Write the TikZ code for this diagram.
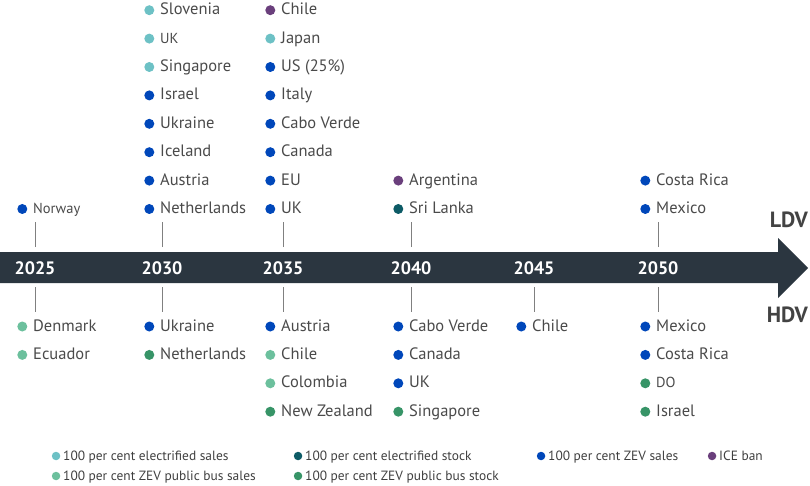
\documentclass[tikz,border=0pt]{standalone}
\usepackage{fontspec}
\setmainfont{PT Sans}
\usetikzlibrary{positioning}

\definecolor{elsales}{HTML}{6DC1C5}
\definecolor{elstock}{HTML}{0D5B66}
\definecolor{zevsales}{HTML}{0047BA}
\definecolor{iceban}{HTML}{6A3F7C}
\definecolor{bussales}{HTML}{6CC09D}
\definecolor{busstock}{HTML}{379467}
\definecolor{bar}{HTML}{2B3640}
\definecolor{txt}{HTML}{4A4A4A}

\begin{document}
\begin{tikzpicture}[x=1pt, y=-1pt,
  node distance=19pt,
  entry/.style={anchor=west, inner sep=0pt, text height=9pt, text depth=0pt,
                font=\fontsize{16.5}{16.5}\selectfont, text=txt,
                label={[circle, fill=#1, minimum size=10pt, inner sep=0pt,
                        xshift=-5.5pt]left:{}}},
  small/.style={font=\fontsize{14.5}{14.5}\selectfont},
  upof/.style={above=of #1.north west, anchor=south west},
  downof/.style={below=of #1.south west, anchor=north west},
  key/.style={anchor=west, inner sep=0pt, text height=8pt, text depth=0pt,
              font=\fontsize{13.4}{13.4}\selectfont, text=txt!85!black,
              label={[circle, fill=#1, minimum size=8.5pt, inner sep=0pt,
                      xshift=-2.5pt]left:{}}},
  year/.style={font=\fontsize{18}{18}\selectfont\bfseries, text=white, inner sep=0pt},
  side/.style={font=\fontsize{22}{22}\selectfont\bfseries, text=txt!90!black,
               anchor=east, inner sep=0pt},
  tick/.style={draw=gray, line width=0.7pt}
]
\useasboundingbox (0,0) rectangle (810,486);

% timeline arrow
\fill[bar] (0,252) -- (778,252) -- (778,238) -- (808,268)
           -- (778,298) -- (778,283) -- (0,283) -- cycle;

\node[year] (y2025) at (35,268)  {2025};
\node[year] (y2030) at (162,268) {2030};
\node[year] (y2035) at (283,268) {2035};
\node[year] (y2040) at (411,268) {2040};
\node[year] (y2045) at (534,268) {2045};
\node[year] (y2050) at (658,268) {2050};

\node[side] (ldv) at (808,220) {LDV};
\node[side] (hdv) at (808,315) {HDV};

% ticks
\draw[tick] (y2025.center) ++(0,-21) -- ++(0,-25);
\draw[tick] (y2030.center) ++(0,-21) -- ++(0,-25);
\draw[tick] (y2035.center) ++(0,-21) -- ++(0,-25);
\draw[tick] (y2040.center) ++(0,-21) -- ++(0,-25);
\draw[tick] (y2050.center) ++(0,-21) -- ++(0,-25);
\draw[tick] (y2025.center) ++(0,19) -- ++(0,25);
\draw[tick] (y2030.center) ++(0,19) -- ++(0,25);
\draw[tick] (y2035.center) ++(0,19) -- ++(0,25);
\draw[tick] (y2040.center) ++(0,19) -- ++(0,25);
\draw[tick] (y2045.center) ++(0,19) -- ++(0,25);
\draw[tick] (y2050.center) ++(0,19) -- ++(0,25);

% LDV targets
\node[entry=zevsales, small] (no25) at (33,209) {Norway};

\node[entry=zevsales] (ne30) at (160,209) {Netherlands};
\node[entry=zevsales, upof=ne30] (au30) {Austria};
\node[entry=zevsales, upof=au30] (ic30) {Iceland};
\node[entry=zevsales, upof=ic30] (ua30) {Ukraine};
\node[entry=zevsales, upof=ua30] (il30) {Israel};
\node[entry=elsales,  upof=il30] (sg30) {Singapore};
\node[entry=elsales,  upof=sg30, small] (uk30) {UK};
\node[entry=elsales,  upof=uk30] (si30) {Slovenia};

\node[entry=zevsales] (uk35) at (281,209) {UK};
\node[entry=zevsales, upof=uk35] (eu35) {EU};
\node[entry=zevsales, upof=eu35] (ca35) {Canada};
\node[entry=zevsales, upof=ca35] (cv35) {Cabo Verde};
\node[entry=zevsales, upof=cv35] (it35) {Italy};
\node[entry=zevsales, upof=it35] (us35) {US (25\%)};
\node[entry=elsales,  upof=us35] (jp35) {Japan};
\node[entry=iceban,   upof=jp35] (cl35) {Chile};

\node[entry=elstock] (lk40) at (409,209) {Sri Lanka};
\node[entry=iceban, upof=lk40] (ar40) {Argentina};

\node[entry=zevsales] (mx50) at (656,209) {Mexico};
\node[entry=zevsales, upof=mx50] (cr50) {Costa Rica};

% HDV targets
\node[entry=bussales] (dk25) at (33,326.5) {Denmark};
\node[entry=bussales, downof=dk25] (ec25) {Ecuador};

\node[entry=zevsales] (ua30h) at (160,326.5) {Ukraine};
\node[entry=busstock, downof=ua30h] (ne30h) {Netherlands};

\node[entry=zevsales] (au35h) at (281,326.5) {Austria};
\node[entry=bussales, downof=au35h] (cl35h) {Chile};
\node[entry=bussales, downof=cl35h] (co35h) {Colombia};
\node[entry=busstock, downof=co35h] (nz35h) {New Zealand};

\node[entry=zevsales] (cv40h) at (409,326.5) {Cabo Verde};
\node[entry=zevsales, downof=cv40h] (ca40h) {Canada};
\node[entry=zevsales, downof=ca40h] (uk40h) {UK};
\node[entry=busstock, downof=uk40h] (sg40h) {Singapore};

\node[entry=zevsales] (cl45h) at (532,326.5) {Chile};

\node[entry=zevsales] (mx50h) at (656,326.5) {Mexico};
\node[entry=zevsales, downof=mx50h] (cr50h) {Costa Rica};
\node[entry=busstock, downof=cr50h, small] (do50h) {DO};
\node[entry=busstock, downof=do50h] (il50h) {Israel};

% legend
\node[key=elsales]  (k1) at (63,456)  {100 per cent electrified sales};
\node[key=elstock]  (k2) at (305,456) {100 per cent electrified stock};
\node[key=zevsales] (k3) at (548,456) {100 per cent ZEV sales};
\node[key=iceban]   (k4) at (719,456) {ICE ban};
\node[key=bussales] (k5) at (63,476)  {100 per cent ZEV public bus sales};
\node[key=busstock] (k6) at (305,476) {100 per cent ZEV public bus stock};
\end{tikzpicture}
\end{document}
